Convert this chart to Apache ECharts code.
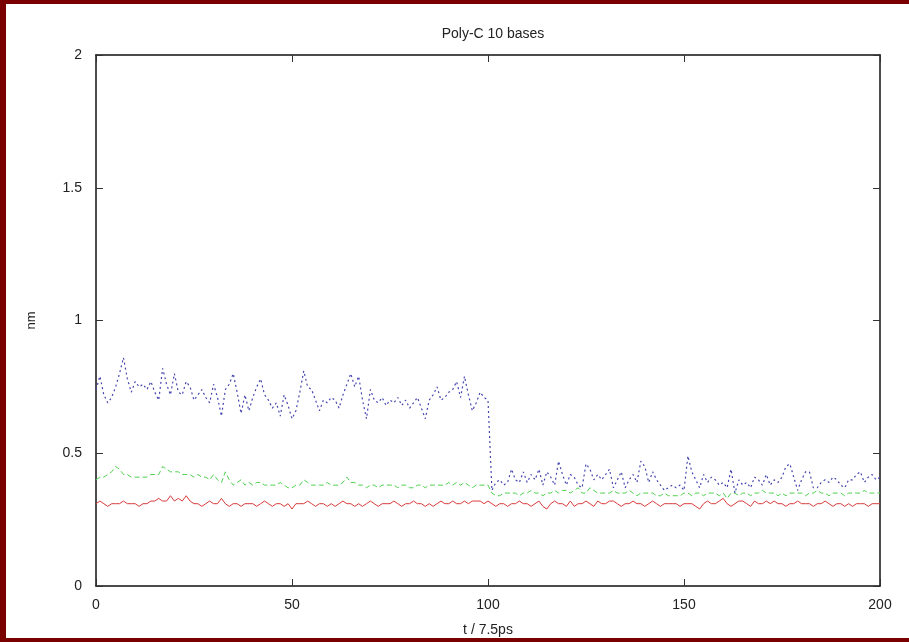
<!DOCTYPE html>
<html>
<head>
<meta charset="utf-8">
<title>Poly-C 10 bases</title>
<style type="text/css">
    *{ margin:0; padding:0; }
    html,body{ width:909px; height:642px; background:#fff; overflow:hidden; }
    #main{ width:909px; height:642px; }
</style>
</head>
<body>
<div id="main"></div>
<script src="https://cdn.jsdelivr.net/npm/echarts@6/dist/echarts.min.js"></script>
<script type="text/javascript">
// values, one per time step t = 0..200
var blue = [
    0.74,0.79,0.72,0.69,0.71,0.75,0.80,0.86,0.78,0.73,
    0.77,0.75,0.76,0.74,0.77,0.73,0.70,0.82,0.76,0.72,
    0.80,0.73,0.72,0.77,0.75,0.70,0.72,0.74,0.71,0.69,
    0.76,0.71,0.64,0.74,0.76,0.80,0.73,0.65,0.72,0.66,
    0.71,0.75,0.78,0.72,0.70,0.67,0.69,0.64,0.72,0.68,
    0.63,0.66,0.73,0.81,0.75,0.74,0.70,0.66,0.70,0.69,
    0.71,0.70,0.67,0.72,0.76,0.80,0.75,0.79,0.70,0.63,
    0.74,0.70,0.69,0.71,0.68,0.70,0.69,0.71,0.68,0.70,
    0.67,0.69,0.71,0.67,0.63,0.70,0.72,0.75,0.70,0.71,
    0.73,0.74,0.77,0.71,0.79,0.72,0.66,0.69,0.73,0.71,
    0.70,
    0.36,0.39,0.40,0.38,0.39,0.44,0.40,0.39,0.43,0.39,
    0.42,0.40,0.44,0.38,0.43,0.41,0.38,0.47,0.42,0.38,
    0.42,0.41,0.38,0.37,0.46,0.44,0.40,0.42,0.40,0.42,
    0.44,0.37,0.40,0.43,0.37,0.40,0.42,0.39,0.47,0.45,
    0.39,0.43,0.40,0.38,0.36,0.37,0.38,0.37,0.38,0.36,
    0.49,0.43,0.40,0.37,0.42,0.39,0.41,0.40,0.38,0.39,
    0.37,0.44,0.35,0.40,0.38,0.39,0.37,0.41,0.40,0.38,
    0.42,0.38,0.40,0.39,0.41,0.45,0.46,0.41,0.36,0.40,
    0.43,0.43,0.37,0.37,0.39,0.40,0.39,0.41,0.40,0.38,
    0.37,0.40,0.40,0.42,0.43,0.39,0.41,0.42,0.40,0.41
];
var green = [
    0.40,0.41,0.41,0.42,0.43,0.45,0.44,0.42,0.42,0.41,
    0.41,0.41,0.41,0.41,0.42,0.42,0.42,0.45,0.44,0.43,
    0.43,0.43,0.42,0.42,0.42,0.41,0.42,0.41,0.41,0.40,
    0.42,0.40,0.39,0.43,0.40,0.38,0.39,0.40,0.38,0.39,
    0.38,0.39,0.39,0.38,0.38,0.38,0.38,0.39,0.38,0.37,
    0.37,0.38,0.38,0.40,0.39,0.38,0.38,0.38,0.38,0.39,
    0.38,0.38,0.38,0.39,0.41,0.39,0.39,0.38,0.38,0.37,
    0.38,0.38,0.37,0.38,0.38,0.38,0.38,0.37,0.38,0.38,
    0.37,0.37,0.38,0.38,0.37,0.38,0.38,0.38,0.38,0.38,
    0.39,0.38,0.39,0.38,0.39,0.38,0.37,0.38,0.38,0.38,
    0.38,
    0.35,0.34,0.34,0.35,0.35,0.35,0.35,0.34,0.35,0.35,
    0.36,0.35,0.35,0.34,0.35,0.35,0.36,0.35,0.36,0.36,
    0.35,0.36,0.37,0.35,0.35,0.37,0.36,0.35,0.35,0.35,
    0.35,0.36,0.35,0.35,0.35,0.36,0.35,0.34,0.35,0.35,
    0.35,0.35,0.34,0.34,0.35,0.34,0.34,0.34,0.34,0.35,
    0.35,0.34,0.35,0.35,0.34,0.35,0.35,0.35,0.34,0.35,
    0.33,0.35,0.35,0.34,0.35,0.35,0.34,0.35,0.35,0.36,
    0.35,0.35,0.35,0.34,0.35,0.34,0.35,0.35,0.35,0.35,
    0.34,0.35,0.35,0.36,0.35,0.35,0.34,0.35,0.35,0.35,
    0.34,0.35,0.35,0.35,0.35,0.36,0.35,0.35,0.35,0.35
];
var red = [
    0.31,0.32,0.31,0.30,0.31,0.31,0.31,0.32,0.31,0.31,
    0.31,0.30,0.31,0.31,0.32,0.32,0.33,0.32,0.32,0.34,
    0.32,0.33,0.32,0.34,0.32,0.31,0.31,0.30,0.31,0.32,
    0.31,0.31,0.33,0.31,0.30,0.31,0.31,0.30,0.31,0.31,
    0.31,0.30,0.31,0.32,0.31,0.30,0.31,0.31,0.30,0.31,
    0.29,0.31,0.31,0.31,0.32,0.31,0.30,0.31,0.31,0.30,
    0.31,0.30,0.31,0.32,0.31,0.31,0.30,0.31,0.30,0.31,
    0.32,0.31,0.30,0.31,0.31,0.31,0.32,0.31,0.30,0.31,
    0.31,0.32,0.31,0.31,0.30,0.31,0.30,0.31,0.32,0.31,
    0.31,0.32,0.31,0.31,0.32,0.31,0.32,0.32,0.32,0.31,
    0.32,
    0.31,0.30,0.31,0.31,0.30,0.31,0.31,0.32,0.31,0.31,
    0.30,0.31,0.32,0.30,0.29,0.31,0.32,0.31,0.31,0.30,
    0.32,0.30,0.31,0.31,0.32,0.31,0.30,0.32,0.31,0.31,
    0.32,0.32,0.31,0.30,0.31,0.31,0.32,0.31,0.31,0.30,
    0.31,0.32,0.31,0.30,0.31,0.31,0.31,0.31,0.30,0.31,
    0.31,0.31,0.30,0.29,0.31,0.32,0.31,0.31,0.32,0.33,
    0.31,0.30,0.31,0.32,0.32,0.31,0.30,0.32,0.31,0.31,
    0.32,0.31,0.32,0.31,0.31,0.30,0.31,0.31,0.32,0.31,
    0.31,0.31,0.30,0.31,0.31,0.32,0.31,0.30,0.31,0.31,
    0.30,0.31,0.30,0.31,0.31,0.31,0.30,0.31,0.31,0.31
];

function pairs(arr){
    return arr.map(function(v, i){ return [i, v]; });
}

var myChart = echarts.init(document.getElementById('main'));
var font = 'Liberation Sans, Arial, sans-serif';
var axisCommon = {
    axisLine: { show: true, onZero: false, lineStyle: { color: '#111', width: 1.5 } },
    axisTick: { show: true, inside: true, length: 7, lineStyle: { color: '#333', width: 1 } },
    splitLine: { show: false }
};

var option = {
    animation: false,
    backgroundColor: '#fff',
    title: {
        text: 'Poly-C 10 bases',
        left: 488, top: 22, textAlign: 'center',
        textStyle: { fontFamily: font, fontSize: 14, fontWeight: 'normal', color: '#222' }
    },
    grid: { left: 96, right: 29, top: 55, bottom: 55, containLabel: false },
    xAxis: [
        Object.assign({
            type: 'value', min: 0, max: 200, interval: 50, position: 'bottom',
            name: 't / 7.5ps', nameLocation: 'middle', nameGap: 37,
            nameTextStyle: { fontFamily: font, fontSize: 14, color: '#222' },
            axisLabel: { fontFamily: font, fontSize: 14, color: '#222', margin: 12 }
        }, axisCommon),
        Object.assign({
            type: 'value', min: 0, max: 200, interval: 50, position: 'top',
            axisLabel: { show: false }
        }, axisCommon)
    ],
    yAxis: [
        Object.assign({
            type: 'value', min: 0, max: 2, interval: 0.5, position: 'left',
            name: 'nm', nameLocation: 'middle', nameGap: 58, nameRotate: 90,
            nameTextStyle: { fontFamily: font, fontSize: 13, color: '#222' },
            axisLabel: { fontFamily: font, fontSize: 14, color: '#222', margin: 14 }
        }, axisCommon),
        Object.assign({
            type: 'value', min: 0, max: 2, interval: 0.5, position: 'right',
            axisLabel: { show: false }
        }, axisCommon)
    ],
    graphic: [
        { type: 'rect', shape: { x: 0, y: 0, width: 909, height: 4 }, style: { fill: '#7a0000' }, z: 100 },
        { type: 'rect', shape: { x: 0, y: 0, width: 6, height: 642 }, style: { fill: '#7a0000' }, z: 100 },
        { type: 'rect', shape: { x: 0, y: 638, width: 909, height: 4 }, style: { fill: '#7a0000' }, z: 100 }
    ],
    series: [
        {
            name: 'red', type: 'line', data: pairs(red), showSymbol: false,
            lineStyle: { color: '#d83a3a', width: 1, type: 'solid' }
        },
        {
            name: 'green', type: 'line', data: pairs(green), showSymbol: false,
            lineStyle: { color: '#4fd04f', width: 1, type: [5, 3] }
        },
        {
            name: 'blue', type: 'line', data: pairs(blue), showSymbol: false,
            lineStyle: { color: '#4646b0', width: 1.2, type: [2, 3] }
        }
    ]
};
myChart.setOption(option);
</script>
</body>
</html>
